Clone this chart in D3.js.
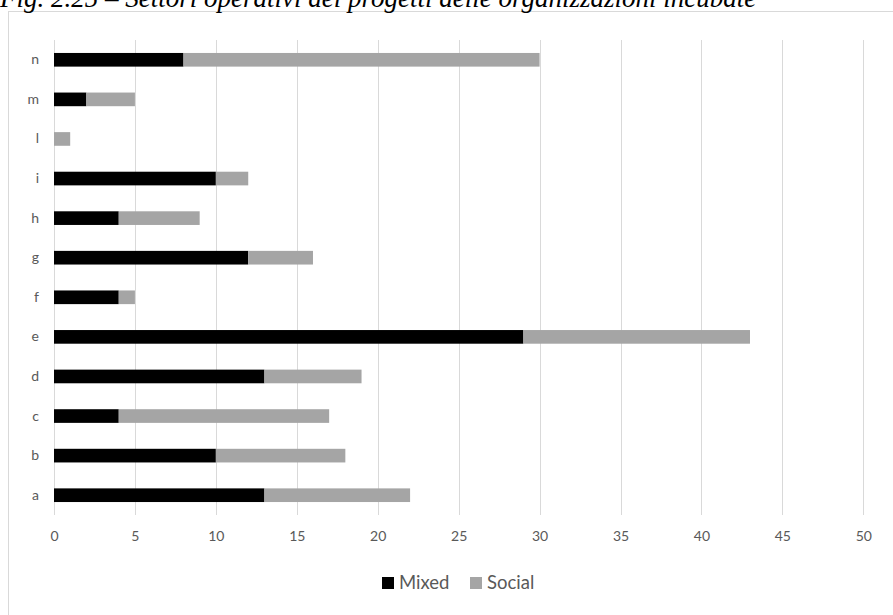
<!DOCTYPE html>
<html>
<head>
<meta charset="utf-8">
<script src="https://cdn.jsdelivr.net/npm/d3@7"></script>
<style>
  html, body { margin: 0; padding: 0; background: #fff; }
  svg { display: block; }
</style>
</head>
<body>
<svg id="chart" width="893" height="615"></svg>
<script>
const categories = ["a", "b", "c", "d", "e", "f", "g", "h", "i", "l", "m", "n"];
const mixed  = [13, 10, 4, 13, 29, 4, 12, 4, 10, 0, 2, 8];
const social = [9, 8, 13, 6, 14, 1, 4, 5, 2, 1, 3, 22];
const seriesNames = ["Mixed", "Social"];
const seriesColors = ["#000000", "#a5a5a5"];
const xTicks = [0, 5, 10, 15, 20, 25, 30, 35, 40, 45, 50];
const title = "Fig. 2.25 – Settori operativi dei progetti delle organizzazioni incubate";

const svg = d3.select("#chart");
const font = "Lato, 'Open Sans', sans-serif";

// chart frame
svg.append("rect")
  .attr("x", 8.5).attr("y", 11.5)
  .attr("width", 1000).attr("height", 700)
  .attr("fill", "#fff").attr("stroke", "#d9d9d9").attr("stroke-width", 1);

const x = d3.scaleLinear().domain([0, 50]).range([54, 863.3]);
const y = d3.scaleBand().domain(categories.slice().reverse()).range([40, 515]).paddingInner(0.655).paddingOuter(0.3275);

// gridlines
svg.append("g").selectAll("line").data(xTicks).join("line")
  .attr("x1", d => Math.round(x(d)) + 0.5).attr("x2", d => Math.round(x(d)) + 0.5)
  .attr("y1", 40).attr("y2", 515)
  .attr("stroke", "#d9d9d9").attr("stroke-width", 1);

// stacked bars
const rows = categories.map((c, i) => ({ cat: c, Mixed: mixed[i], Social: social[i] }));
const stacked = d3.stack().keys(seriesNames)(rows);
svg.append("g").selectAll("g").data(stacked).join("g")
  .attr("fill", (d, i) => seriesColors[i])
  .selectAll("rect").data(d => d).join("rect")
  .attr("x", d => x(d[0]))
  .attr("width", d => x(d[1]) - x(d[0]))
  .attr("y", d => y(d.data.cat))
  .attr("height", y.bandwidth());

// x axis labels
const xAxis = d3.axisBottom(x).tickValues(xTicks).tickSize(0).tickPadding(0);
const gx = svg.append("g").attr("transform", "translate(0,531)").call(xAxis);
gx.select(".domain").remove();
gx.selectAll("text").attr("font-family", font).attr("font-size", 14).attr("fill", "#595959").attr("dy", "0.71em");

// y axis labels
const yAxis = d3.axisLeft(y).tickSize(0).tickPadding(15);
const gy = svg.append("g").attr("transform", "translate(54,0)").call(yAxis);
gy.select(".domain").remove();
gy.selectAll("text").attr("font-family", font).attr("font-size", 14).attr("fill", "#595959");

// legend
const legend = svg.append("g");
const legX = [382, 470];
seriesNames.forEach((name, i) => {
  legend.append("rect").attr("x", legX[i]).attr("y", 577).attr("width", 12).attr("height", 12).attr("fill", seriesColors[i]);
  legend.append("text").attr("x", legX[i] + 17).attr("y", 583).attr("dy", "0.35em")
    .attr("font-family", font).attr("font-size", 18.5).attr("fill", "#595959").text(name);
});

// title (clipped at the top of the page, as in the reference)
svg.append("text").attr("x", 0).attr("y", 7)
  .attr("font-family", "'Liberation Serif', 'Times New Roman', serif")
  .attr("font-style", "italic").attr("font-size", 27).attr("fill", "#000")
  .text(title);
</script>
</body>
</html>
